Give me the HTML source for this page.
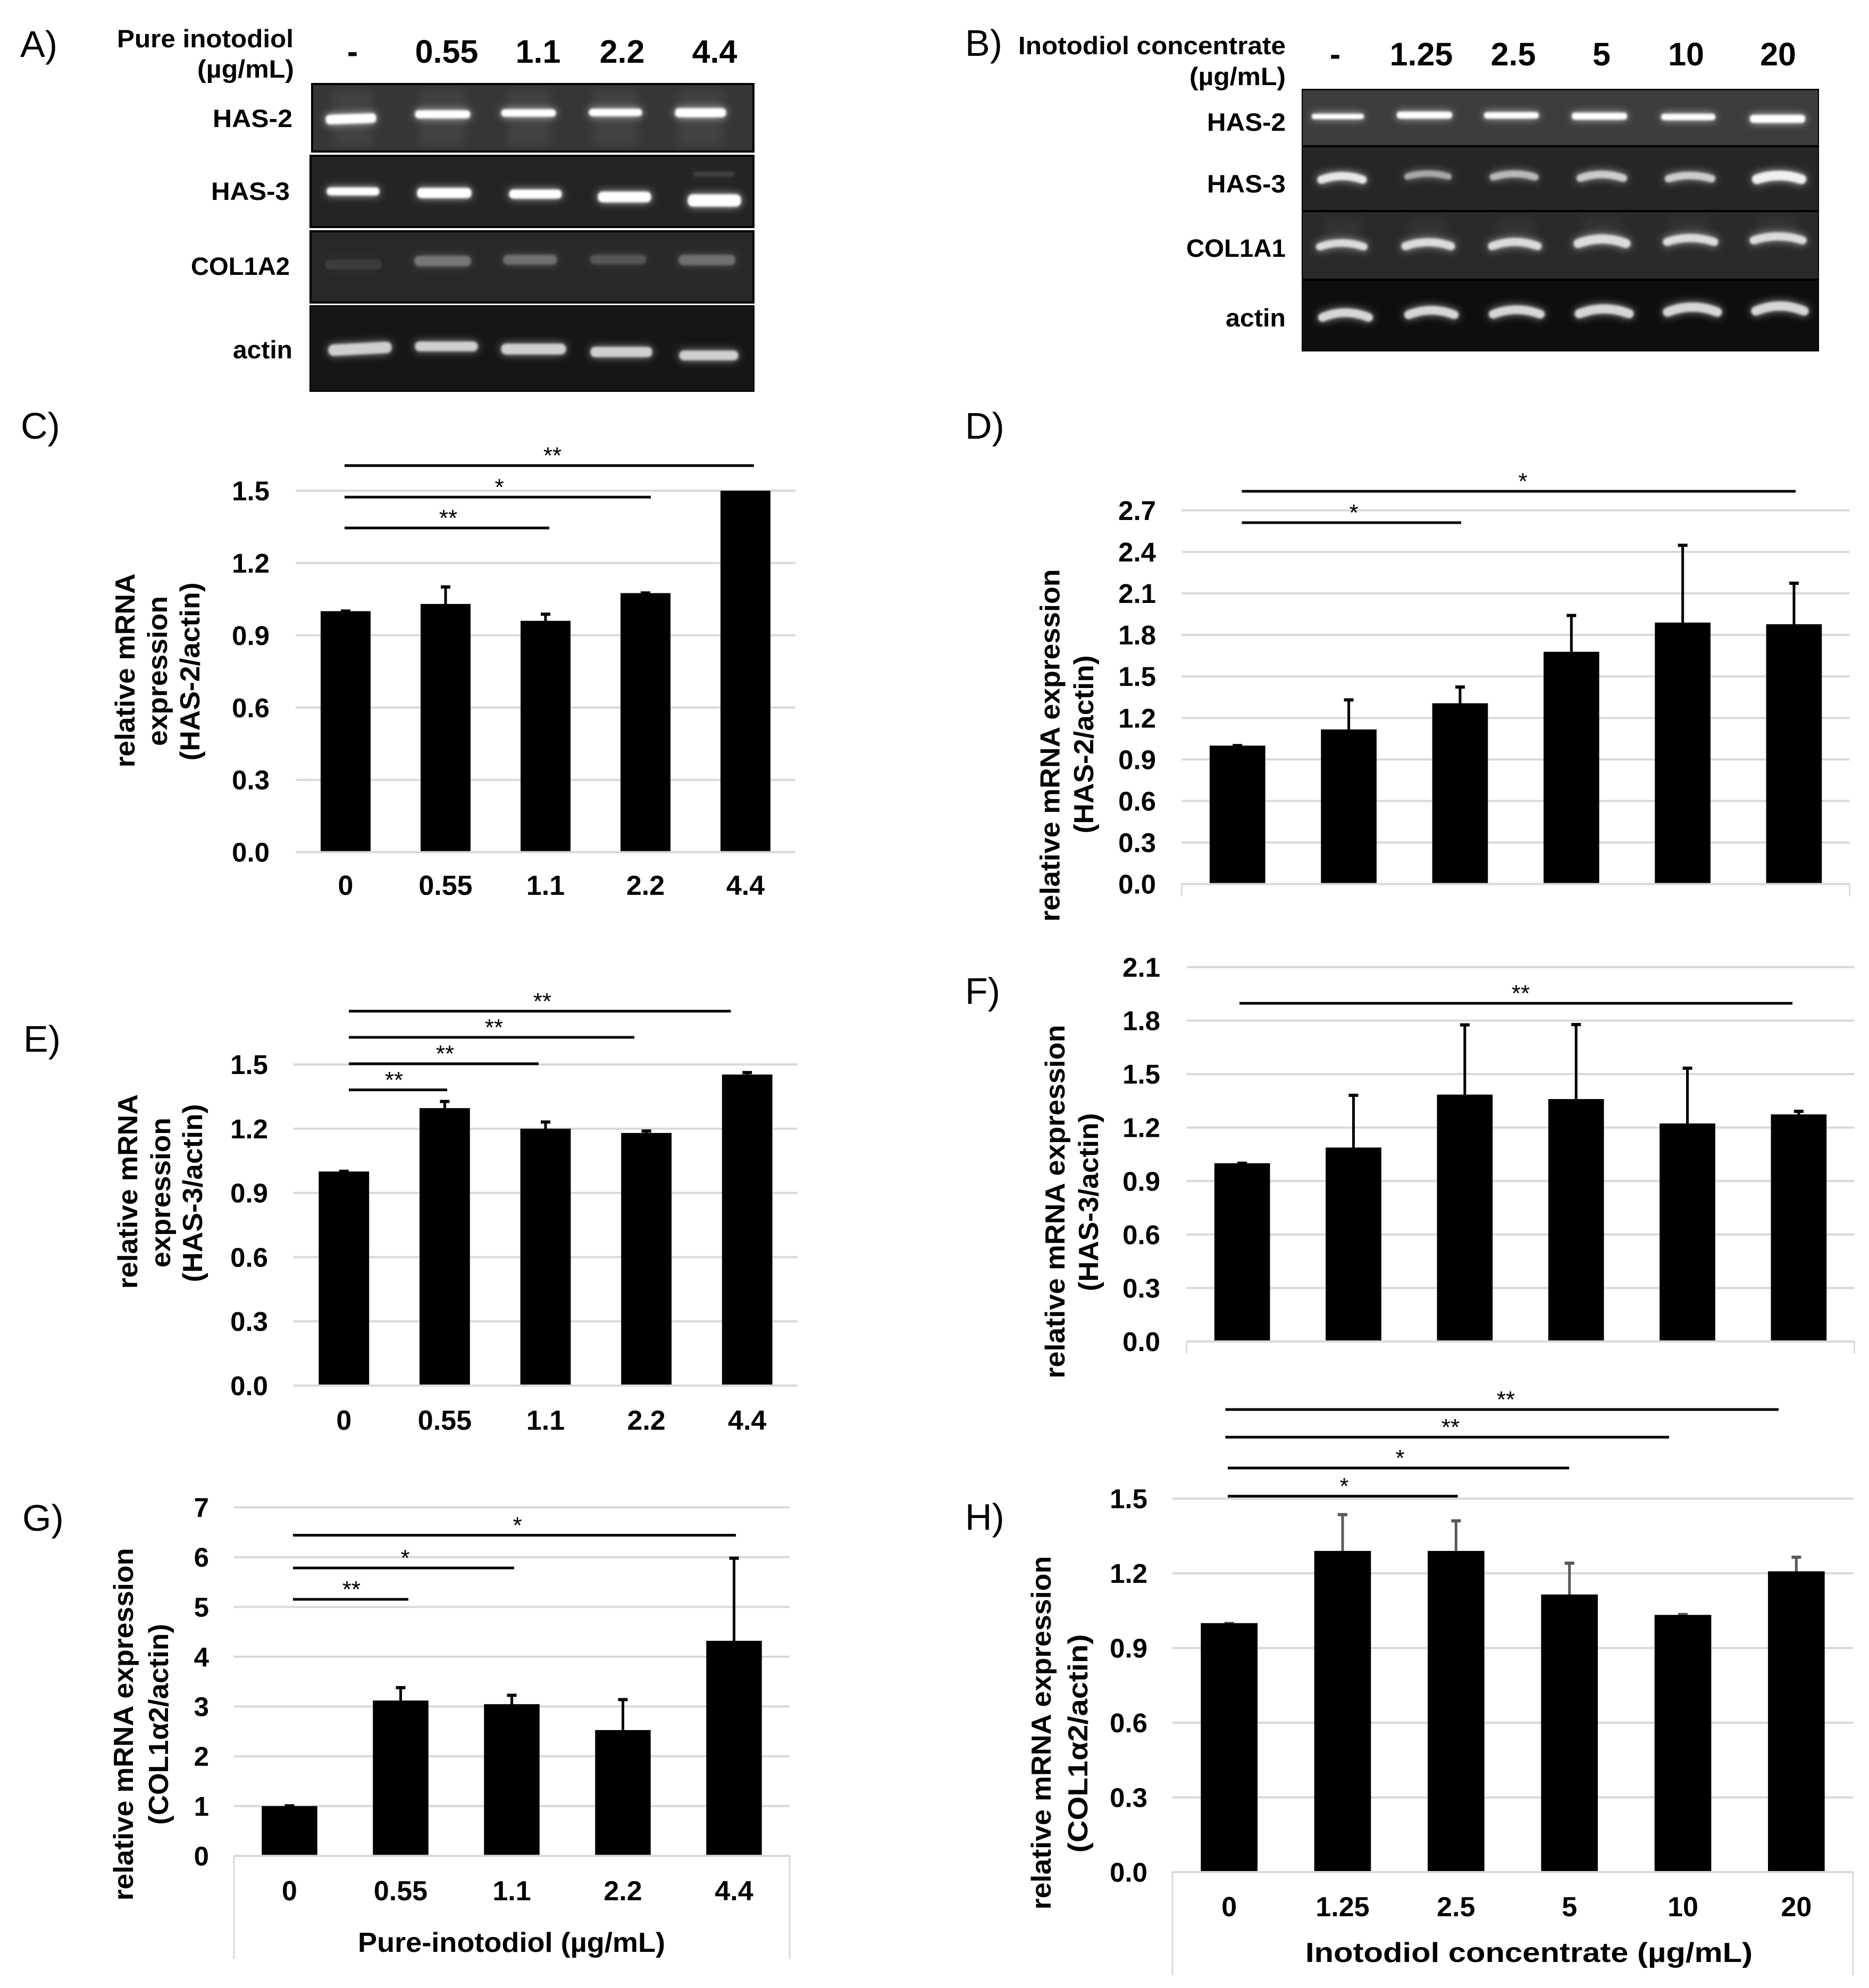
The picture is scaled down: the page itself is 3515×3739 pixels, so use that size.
<!DOCTYPE html>
<html lang="en">
<head>
<meta charset="utf-8">
<title>Inotodiol mRNA expression figure</title>
<style>
html,body{margin:0;padding:0;background:#fff;}
svg{display:block;font-family:"Liberation Sans","Noto Sans CJK KR",sans-serif;}
.b{font-weight:700;fill:#000;}
.panel{font-size:70px;fill:#000;font-weight:400;}
.hdr{font-size:47px;font-weight:700;fill:#000;text-anchor:end;}
.col{font-size:61px;font-weight:700;fill:#000;text-anchor:middle;}
</style>
</head>
<body>
<svg id="figure" xmlns="http://www.w3.org/2000/svg" width="3515" height="3739" viewBox="0 0 3515 3739">
<defs>
<filter id="glow" filterUnits="userSpaceOnUse" x="0" y="0" width="3515" height="800">
<feGaussianBlur in="SourceGraphic" stdDeviation="8" result="wide"/>
<feComponentTransfer in="wide" result="halo"><feFuncA type="linear" slope="0.7"/></feComponentTransfer>
<feGaussianBlur in="SourceGraphic" stdDeviation="2.2" result="core"/>
<feMerge><feMergeNode in="halo"/><feMergeNode in="core"/></feMerge>
</filter>
<filter id="soft" filterUnits="userSpaceOnUse" x="0" y="0" width="3515" height="800"><feGaussianBlur stdDeviation="9"/></filter>
</defs>
<rect width="3515" height="3739" fill="#fff"/>

<text class="panel" x="38" y="107">A)</text>
<text class="panel" x="1815" y="105">B)</text>
<text class="panel" x="39" y="825">C)</text>
<text class="panel" x="1815" y="825">D)</text>
<text class="panel" x="44" y="1978">E)</text>
<text class="panel" x="1815" y="1888">F)</text>
<text class="panel" x="42" y="2879">G)</text>
<text class="panel" x="1815" y="2877">H)</text>

<g>
<text class="hdr" x="552" y="89" textLength="332" lengthAdjust="spacingAndGlyphs">Pure inotodiol</text>
<text class="hdr" x="553" y="146" textLength="182" lengthAdjust="spacingAndGlyphs">(µg/mL)</text>
<text class="col" x="663" y="118">-</text>
<text class="col" x="840" y="118">0.55</text>
<text class="col" x="1012" y="118">1.1</text>
<text class="col" x="1170" y="118">2.2</text>
<text class="col" x="1344" y="118">4.4</text>
<text class="hdr" x="550" y="239" textLength="150" lengthAdjust="spacingAndGlyphs">HAS-2</text>
<text class="hdr" x="545" y="376" textLength="148" lengthAdjust="spacingAndGlyphs">HAS-3</text>
<text class="hdr" x="545" y="517" textLength="186" lengthAdjust="spacingAndGlyphs">COL1A2</text>
<text class="hdr" x="550" y="674" textLength="112" lengthAdjust="spacingAndGlyphs">actin</text>
</g>

<g>
<rect x="587" y="158" width="830" height="127" fill="#363636" stroke="#000" stroke-width="4"/>
<rect x="584" y="293" width="833" height="134" fill="#242424" stroke="#000" stroke-width="4"/>
<rect x="584" y="435" width="833" height="134" fill="#282828" stroke="#000" stroke-width="4"/>
<rect x="583" y="575" width="835" height="161" fill="#161616" stroke="#000" stroke-width="2"/>
<g fill="#fff" opacity="0.06" filter="url(#soft)">
<rect x="625" y="170" width="75" height="105"/><rect x="790" y="170" width="85" height="105"/><rect x="955" y="170" width="80" height="105"/><rect x="1115" y="170" width="85" height="105"/><rect x="1275" y="170" width="85" height="105"/>
</g>
<g fill="#fff" stroke="#fff" stroke-width="3" filter="url(#glow)">
<rect x="614" y="216" width="92" height="15" rx="6" transform="rotate(-2 660 223)"/>
<rect x="782" y="209" width="101" height="12" rx="5"/>
<rect x="944" y="207" width="100" height="11" rx="5"/>
<rect x="1109" y="206" width="97" height="11" rx="5"/>
<rect x="1271" y="205" width="93" height="14" rx="6"/>
</g>
<g fill="#fff" stroke="#fff" stroke-width="3" filter="url(#glow)">
<rect x="616" y="354" width="96" height="12" rx="5"/>
<rect x="786" y="355" width="99" height="16" rx="6"/>
<rect x="959" y="358" width="96" height="14" rx="6"/>
<rect x="1126" y="362" width="97" height="17" rx="7"/>
<rect x="1295" y="367" width="97" height="20" rx="8"/>
<rect x="1305" y="325" width="75" height="5" rx="2" opacity="0.12"/>
</g>
<g stroke-width="5" filter="url(#glow)">
<rect x="614" y="491" width="101" height="13" rx="5" fill="#3c3c3c" stroke="#3c3c3c"/>
<rect x="782" y="484" width="101" height="14" rx="6" fill="#767676" stroke="#767676"/>
<rect x="949" y="482" width="96" height="13" rx="6" fill="#707070" stroke="#707070"/>
<rect x="1112" y="482" width="101" height="12" rx="6" fill="#565656" stroke="#565656"/>
<rect x="1279" y="482" width="101" height="14" rx="6" fill="#707070" stroke="#707070"/>
</g>
<g fill="#cfcfcf" stroke="#cfcfcf" stroke-width="3" filter="url(#glow)">
<rect x="619" y="647" width="116" height="18" rx="8" transform="rotate(-3 677 656)"/>
<rect x="782" y="644" width="115" height="15" rx="7"/>
<rect x="944" y="648" width="119" height="17" rx="8"/>
<rect x="1112" y="654" width="113" height="16" rx="7"/>
<rect x="1279" y="661" width="108" height="15" rx="7"/>
</g>
</g>

<g>
<text class="hdr" x="2418" y="102" textLength="503" lengthAdjust="spacingAndGlyphs">Inotodiol concentrate</text>
<text class="hdr" x="2418" y="160" textLength="181" lengthAdjust="spacingAndGlyphs">(µg/mL)</text>
<text class="col" x="2511" y="123">-</text>
<text class="col" x="2673" y="123">1.25</text>
<text class="col" x="2846" y="123">2.5</text>
<text class="col" x="3012" y="123">5</text>
<text class="col" x="3171" y="123">10</text>
<text class="col" x="3344" y="123">20</text>
<text class="hdr" x="2418" y="246" textLength="148" lengthAdjust="spacingAndGlyphs">HAS-2</text>
<text class="hdr" x="2418" y="362" textLength="148" lengthAdjust="spacingAndGlyphs">HAS-3</text>
<text class="hdr" x="2418" y="483" textLength="187" lengthAdjust="spacingAndGlyphs">COL1A1</text>
<text class="hdr" x="2418" y="614" textLength="113" lengthAdjust="spacingAndGlyphs">actin</text>
</g>

<g>
<rect x="2448" y="167" width="973" height="494" fill="#000"/>
<rect x="2450" y="170" width="969" height="103" fill="#3c3c3c"/>
<rect x="2450" y="277" width="969" height="118" fill="#262626"/>
<rect x="2450" y="399" width="969" height="125" fill="#2a2a2a"/>
<rect x="2450" y="528" width="969" height="132" fill="#0e0e0e"/>
<g fill="#fff" opacity="0.04" filter="url(#soft)">
<rect x="2490" y="410" width="70" height="40"/><rect x="2650" y="410" width="70" height="40"/><rect x="2815" y="410" width="70" height="40"/><rect x="2975" y="405" width="75" height="40"/><rect x="3140" y="405" width="75" height="40"/><rect x="3305" y="405" width="75" height="40"/>
</g>
<g fill="#fff" stroke="#fff" stroke-width="2" filter="url(#glow)">
<rect x="2468" y="215" width="96" height="8" rx="3"/>
<rect x="2628" y="211" width="102" height="11" rx="4"/>
<rect x="2792" y="212" width="101" height="10" rx="4"/>
<rect x="2957" y="213" width="102" height="11" rx="4"/>
<rect x="3125" y="215" width="100" height="10" rx="4"/>
<rect x="3292" y="217" width="102" height="13" rx="5"/>
</g>
<g fill="none" stroke-linecap="round" filter="url(#glow)">
<path d="M2485 338Q2524 324 2563 338" stroke-width="15" stroke="#e8e8e8"/>
<path d="M2647 332Q2686 321 2724 332" stroke-width="12" stroke="#a8a8a8"/>
<path d="M2808 333Q2848 321 2887 333" stroke-width="13" stroke="#b8b8b8"/>
<path d="M2972 335Q3012 321 3053 335" stroke-width="14" stroke="#cccccc"/>
<path d="M3138 336Q3178 324 3219 336" stroke-width="14" stroke="#cccccc"/>
<path d="M3304 337Q3346 323 3388 337" stroke-width="18" stroke="#f0f0f0"/>
</g>
<g fill="none" stroke="#dcdcdc" stroke-linecap="round" filter="url(#glow)">
<path d="M2482 464Q2523 450 2565 464" stroke-width="14"/>
<path d="M2643 463Q2686 448 2729 463" stroke-width="15"/>
<path d="M2806 463Q2849 447 2892 463" stroke-width="15"/>
<path d="M2968 458Q3013 441 3058 458" stroke-width="17"/>
<path d="M3135 455Q3179 440 3224 455" stroke-width="15"/>
<path d="M3298 452Q3344 437 3390 452" stroke-width="15"/>
</g>
<g fill="none" stroke="#d6d6d6" stroke-linecap="round" filter="url(#glow)">
<path d="M2487 597Q2530 579 2574 597" stroke-width="16"/>
<path d="M2649 592Q2692 575 2735 592" stroke-width="16"/>
<path d="M2808 591Q2852 574 2897 591" stroke-width="16"/>
<path d="M2970 590Q3017 572 3064 590" stroke-width="17"/>
<path d="M3136 587Q3183 568 3230 587" stroke-width="17"/>
<path d="M3302 585Q3347 566 3393 585" stroke-width="17"/>
</g>
</g>
</svg>

<script>
const doseCategoriesPure = ['0', '0.55', '1.1', '2.2', '4.4'];
const doseCategoriesConcentrate = ['0', '1.25', '2.5', '5', '10', '20'];

const chartCTicks = ['0.0', '0.3', '0.6', '0.9', '1.2', '1.5'];
const chartCValues = [1.0, 1.03, 0.96, 1.075, 1.5];
const chartCErrors = [0.005, 0.075, 0.032, 0.005, 0];

const chartDTicks = ['0.0', '0.3', '0.6', '0.9', '1.2', '1.5', '1.8', '2.1', '2.4', '2.7'];
const chartDValues = [1.0, 1.117, 1.306, 1.678, 1.889, 1.877];
const chartDErrors = [0.008, 0.221, 0.125, 0.27, 0.566, 0.304];

const chartETicks = ['0.0', '0.3', '0.6', '0.9', '1.2', '1.5'];
const chartEValues = [1.0, 1.296, 1.2, 1.18, 1.453];
const chartEErrors = [0.006, 0.036, 0.036, 0.014, 0.014];

const chartFTicks = ['0.0', '0.3', '0.6', '0.9', '1.2', '1.5', '1.8', '2.1'];
const chartFValues = [1.0, 1.088, 1.385, 1.36, 1.223, 1.274];
const chartFErrors = [0.006, 0.299, 0.397, 0.424, 0.316, 0.023];

const chartGTicks = ['0', '1', '2', '3', '4', '5', '6', '7'];
const chartGValues = [1.0, 3.12, 3.047, 2.527, 4.32];
const chartGErrors = [0.027, 0.28, 0.2, 0.633, 1.68];

const chartHTicks = ['0.0', '0.3', '0.6', '0.9', '1.2', '1.5'];
const chartHValues = [1.0, 1.29, 1.29, 1.115, 1.033, 1.208];
const chartHErrors = [0.003, 0.15, 0.125, 0.13, 0.006, 0.061];

const NS = 'http://www.w3.org/2000/svg';
const figure = document.getElementById('figure');

function make(tag, parent, attrs, content) {
  const node = document.createElementNS(NS, tag);
  for (const key in attrs) node.setAttribute(key, attrs[key]);
  if (content !== undefined) node.textContent = content;
  parent.appendChild(node);
  return node;
}

function renderChart(c) {
  const group = make('g', figure, {});
  
  

  const numericTicks = c.ticks.map(Number);
  const axisMax = Math.max.apply(null, numericTicks);
  const yOf = v => c.y0 - (v / axisMax) * (c.y0 - c.yTop);
  const step = (c.x1 - c.x0) / c.categories.length;
  const xOf = i => c.x0 + (i + 0.5) * step;
  const barWidth = step * 0.5;

  c.ticks.forEach((label, i) => {
    const y = yOf(numericTicks[i]);
    if (numericTicks[i] !== 0) {
      const grid = make('rect', group, { x: c.x0, y: y - 2, width: c.x1 - c.x0, height: 4, fill: '#d9d9d9' });
      
      
    }
    const tick = make('text', group, { x: c.tickRight, y: y + 18, 'font-size': 51, 'font-weight': 700, 'text-anchor': 'end' }, label);
    
    
  });

  if (c.frameBottom) {
    [c.x0, c.x1].forEach(x => {
      const side = make('rect', group, { x: x - 1.5, y: c.y0, width: 3, height: c.frameBottom - c.y0, fill: '#d9d9d9' });
      
      
    });
  }

  c.values.forEach((value, i) => {
    const cx = xOf(i);
    const top = yOf(value);
    const errorTop = yOf(value + c.errors[i]);
    if (c.errors[i] > 0) {
      const stem = make('rect', group, { x: cx - 2.5, y: errorTop, width: 5, height: top - errorTop + 2, fill: c.errorColor });
      
      
      const cap = make('rect', group, { x: cx - 9, y: errorTop - 1, width: 18, height: 6, fill: c.errorColor });
      
      
    }
    const bar = make('rect', group, { x: cx - barWidth / 2, y: top, width: barWidth, height: c.y0 - top, fill: '#000' });
    
    
    if (c.xLabelY) {
      const xLabel = make('text', group, { x: cx, y: c.xLabelY, 'font-size': 52, 'font-weight': 700, 'text-anchor': 'middle' }, c.categories[i]);
      
      
    }
  });

  const baseline = make('rect', group, { x: c.x0, y: c.y0 - 2, width: c.x1 - c.x0, height: 4, fill: '#d9d9d9' });
  
  

  c.titleLines.forEach(line => {
    const title = make('text', group, {
      transform: 'translate(' + line.x + ' ' + line.y + ') rotate(-90)',
      'font-size': 52, 'font-weight': 700, 'text-anchor': 'middle',
      textLength: line.len, lengthAdjust: 'spacingAndGlyphs'
    }, line.text);
    
    
  });

  if (c.xTitle) {
    const xTitle = make('text', group, {
      x: c.xTitle.x, y: c.xTitle.y, 'font-size': 52, 'font-weight': 700, 'text-anchor': 'middle',
      textLength: c.xTitle.len, lengthAdjust: 'spacingAndGlyphs'
    }, c.xTitle.text);
    
    
  }

  c.brackets.forEach(b => {
    const line = make('rect', group, { x: b.from, y: b.y - 2.5, width: b.to - b.from, height: 5, fill: '#000' });
    
    
    const star = make('text', group, { x: b.labelX, y: b.y - 4, 'font-size': 44, 'text-anchor': 'middle' }, b.mark);
    
    
  });
}

renderChart({
  name: 'chart-c-has2-pure', categories: doseCategoriesPure, ticks: chartCTicks, values: chartCValues, errors: chartCErrors,
  x0: 556, x1: 1496, y0: 1602.7, yTop: 922.9, tickRight: 507, xLabelY: 1683, errorColor: '#000',
  titleLines: [
    { text: 'relative mRNA', x: 253, y: 1261, len: 365 },
    { text: 'expression', x: 314, y: 1262, len: 282 },
    { text: '(HAS-2/actin)', x: 375, y: 1263, len: 335 }
  ],
  brackets: [
    { from: 648, to: 1418, y: 875.7, mark: '**', labelX: 1039 },
    { from: 648, to: 1224, y: 935, mark: '*', labelX: 939 },
    { from: 648, to: 1033, y: 993, mark: '**', labelX: 843 }
  ]
});

renderChart({
  name: 'chart-d-has2-concentrate', categories: doseCategoriesConcentrate, ticks: chartDTicks, values: chartDValues, errors: chartDErrors,
  x0: 2222.6, x1: 3478.6, y0: 1662.7, yTop: 959.8, tickRight: 2174, frameBottom: 1686, errorColor: '#000',
  titleLines: [
    { text: 'relative mRNA expression', x: 1992.5, y: 1402, len: 663 },
    { text: '(HAS-2/actin)', x: 2056, y: 1400, len: 335 }
  ],
  brackets: [
    { from: 2335.5, to: 3377, y: 924, mark: '*', labelX: 2864 },
    { from: 2335.5, to: 2748, y: 983, mark: '*', labelX: 2546 }
  ]
});

renderChart({
  name: 'chart-e-has3-pure', categories: doseCategoriesPure, ticks: chartETicks, values: chartEValues, errors: chartEErrors,
  x0: 552, x1: 1500, y0: 2606, yTop: 2002, tickRight: 504, xLabelY: 2689, errorColor: '#000',
  titleLines: [
    { text: 'relative mRNA', x: 258, y: 2241, len: 366 },
    { text: 'expression', x: 320, y: 2243, len: 282 },
    { text: '(HAS-3/actin)', x: 380, y: 2244, len: 335 }
  ],
  brackets: [
    { from: 656, to: 1374.5, y: 1901.8, mark: '**', labelX: 1020 },
    { from: 656, to: 1193, y: 1951, mark: '**', labelX: 929 },
    { from: 656, to: 1013, y: 2000.7, mark: '**', labelX: 837 },
    { from: 656, to: 841, y: 2049.8, mark: '**', labelX: 741 }
  ]
});

renderChart({
  name: 'chart-f-has3-concentrate', categories: doseCategoriesConcentrate, ticks: chartFTicks, values: chartFValues, errors: chartFErrors,
  x0: 2231.5, x1: 3487.5, y0: 2523, yTop: 1819, tickRight: 2182, frameBottom: 2546, errorColor: '#000',
  titleLines: [
    { text: 'relative mRNA expression', x: 2002, y: 2260, len: 665 },
    { text: '(HAS-3/actin)', x: 2065, y: 2261, len: 335 }
  ],
  brackets: [
    { from: 2331, to: 3371, y: 1887, mark: '**', labelX: 2860 }
  ]
});

renderChart({
  name: 'chart-g-col1a2-pure', categories: doseCategoriesPure, ticks: chartGTicks, values: chartGValues, errors: chartGErrors,
  x0: 440, x1: 1485, y0: 3490.5, yTop: 2835, tickRight: 393, xLabelY: 3574, frameBottom: 3684, errorColor: '#000',
  titleLines: [
    { text: 'relative mRNA expression', x: 250, y: 3243, len: 663 },
    { text: '(COL1α2/actin)', x: 316, y: 3243, len: 378 }
  ],
  xTitle: { text: 'Pure-inotodiol (µg/mL)', x: 962, y: 3671, len: 578 },
  brackets: [
    { from: 551, to: 1384, y: 2887.4, mark: '*', labelX: 973 },
    { from: 551, to: 967, y: 2949, mark: '*', labelX: 762 },
    { from: 551, to: 768, y: 3008, mark: '**', labelX: 661 }
  ]
});

renderChart({
  name: 'chart-h-col1a2-concentrate', categories: doseCategoriesConcentrate, ticks: chartHTicks, values: chartHValues, errors: chartHErrors,
  x0: 2205, x1: 3485, y0: 3521, yTop: 2818.6, tickRight: 2158, xLabelY: 3604, frameBottom: 3715, errorColor: '#595959',
  titleLines: [
    { text: 'relative mRNA expression', x: 1976, y: 3259, len: 665 },
    { text: '(COL1α2/actin)', x: 2045, y: 3279, len: 411 }
  ],
  xTitle: { text: 'Inotodiol concentrate (µg/mL)', x: 2875.5, y: 3690, len: 841 },
  brackets: [
    { from: 2304.5, to: 3345, y: 2651, mark: '**', labelX: 2832 },
    { from: 2304.5, to: 3139, y: 2703, mark: '**', labelX: 2728 },
    { from: 2309, to: 2951, y: 2761, mark: '*', labelX: 2633 },
    { from: 2309, to: 2741.6, y: 2814, mark: '*', labelX: 2528 }
  ]
});
</script>
</body>
</html>
